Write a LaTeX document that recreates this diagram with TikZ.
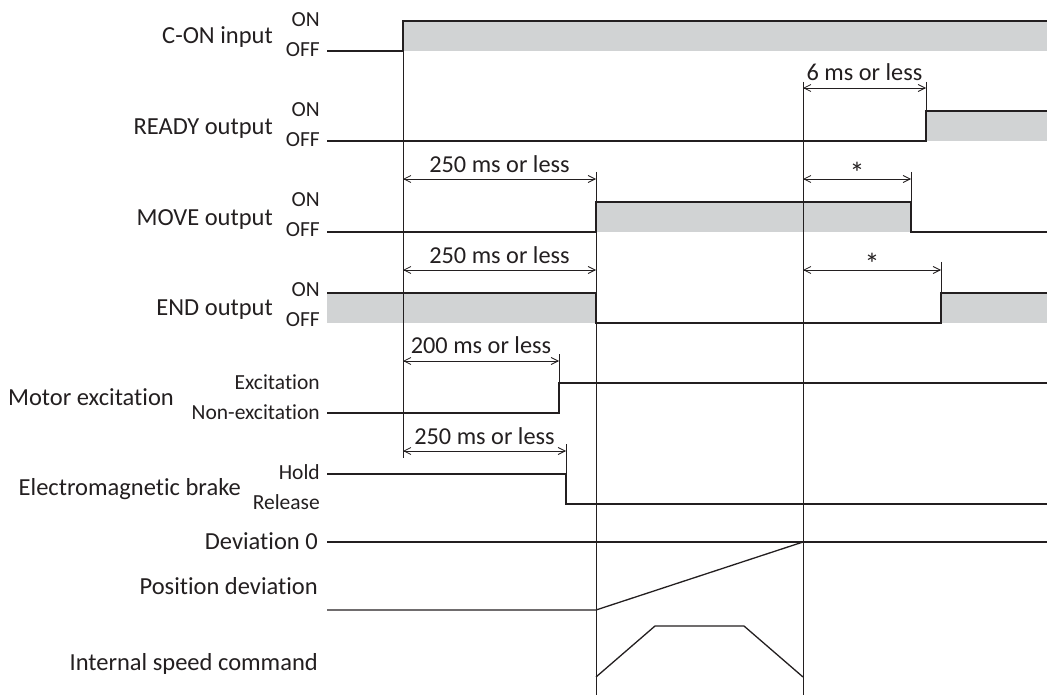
\documentclass[tikz,border=0pt]{standalone}
\usepackage{fontspec}
\setmainfont{Carlito}[Ligatures={NoCommon,NoRequired,NoContextual}]
\usetikzlibrary{arrows.meta}
\definecolor{ink}{HTML}{231F20}
\definecolor{shade}{HTML}{D1D3D4}
\tikzset{
  mainlbl/.style={anchor=base east, inner sep=0pt, text=ink, font=\fontsize{24.5}{24.5}\selectfont},
  sublbl/.style={anchor=base east, inner sep=0pt, text=ink, font=\fontsize{21.5}{21.5}\selectfont},
  annot/.style={anchor=base, inner sep=0pt, text=ink, font=\fontsize{24.3}{24.3}\selectfont},
  star/.style={anchor=base, inner sep=0pt, text=ink, font=\fontsize{30}{30}\selectfont},
  wave/.style={draw=ink, line width=1.3pt, line join=miter},
  guide/.style={draw=ink, line width=0.9pt},
  dim/.style={draw=ink, line width=0.8pt, {Straight Barb[length=7pt,width=7pt,line width=0.8pt]}-{Straight Barb[length=7pt,width=7pt,line width=0.8pt]}},
  fillon/.style={fill=shade, draw=none}
}
\begin{document}
\begin{tikzpicture}[x=1pt,y=-1pt]
\useasboundingbox (0,0) rectangle (1047,695);
% ---------- gray fills ----------
\fill[fillon] (403,21) rectangle (1047,51);
\fill[fillon] (926,111) rectangle (1047,141);
\fill[fillon] (596,202) rectangle (911,232);
\fill[fillon] (327,293) rectangle (596,323);
\fill[fillon] (941,293) rectangle (1047,323);
% ---------- guide lines ----------
\coordinate (g1t) at (403,21);  \coordinate (g1b) at (403,458);
\coordinate (g2t) at (596,172); \coordinate (g2b) at (596,695);
\coordinate (g3t) at (803,82);  \coordinate (g3b) at (803,695);
\draw[guide] (g1t) -- (g1b);
\draw[guide] (g2t) -- (g2b);
\draw[guide] (g3t) -- (g3b);
% ticks
\draw[guide] (926,82) -- (926,111);
\draw[guide] (911,172) -- (911,202);
\draw[guide] (941,262) -- (941,293);
\draw[guide] (559,354) -- (559,383);
\draw[guide] (566,444) -- (566,474);
% ---------- waveforms ----------
\draw[wave] (327,51) -- (403,51) -- (403,21) -- (1047,21);
\draw[wave] (327,141) -- (926,141) -- (926,111) -- (1047,111);
\draw[wave] (327,232) -- (596,232) -- (596,202) -- (911,202) -- (911,232) -- (1047,232);
\draw[wave] (327,293) -- (596,293) -- (596,323) -- (941,323) -- (941,293) -- (1047,293);
\draw[wave] (327,413) -- (559,413) -- (559,383) -- (1047,383);
\draw[wave] (327,474) -- (566,474) -- (566,504) -- (1047,504);
\draw[wave] (327,542) -- (1047,542);
\draw[wave] (327,610) -- (596,610) -- (803,542);
\draw[wave] (596,677) -- (655,626) -- (744,626) -- (803,677);
% ---------- dimension arrows ----------
\coordinate (a1l) at (803,88);  \coordinate (a1r) at (926,88);
\coordinate (a2l) at (403,179); \coordinate (a2r) at (596,179);
\coordinate (a3l) at (803,179); \coordinate (a3r) at (911,179);
\coordinate (a4l) at (403,270); \coordinate (a4r) at (596,270);
\coordinate (a5l) at (803,270); \coordinate (a5r) at (941,270);
\coordinate (a6l) at (403,361); \coordinate (a6r) at (559,361);
\coordinate (a7l) at (403,451); \coordinate (a7r) at (566,451);
\draw[dim] (a1l) -- (a1r);
\draw[dim] (a2l) -- (a2r);
\draw[dim] (a3l) -- (a3r);
\draw[dim] (a4l) -- (a4r);
\draw[dim] (a5l) -- (a5r);
\draw[dim] (a6l) -- (a6r);
\draw[dim] (a7l) -- (a7r);
\node[annot] (t1) at (864.5,81) {6 ms or less};
\node[annot] (t2) at (499.5,173) {250 ms or less};
\node[star]  (t3) at (857,184) {*};
\node[annot] (t4) at (499.5,263) {250 ms or less};
\node[star]  (t5) at (872,275) {*};
\node[annot] (t6) at (481,353) {200 ms or less};
\node[annot] (t7) at (484.5,444) {250 ms or less};
% ---------- labels ----------
\node[mainlbl] (l1) at (273,43.7) {C-ON input};
\node[mainlbl] (l2) at (273,134.7) {READY output};
\node[mainlbl] (l3) at (273,225.7) {MOVE output};
\node[mainlbl] (l4) at (273,315.7) {END output};
\node[mainlbl] (l5) at (174,405.7) {Motor excitation};
\node[mainlbl] (l6) at (241,495.7) {Electromagnetic brake};
\node[mainlbl] (l7) at (318,549.7) {Deviation 0};
\node[mainlbl] (l8) at (318,594.7) {Position deviation};
\node[mainlbl] (l9) at (318,670.7) {Internal speed command};
\node[sublbl] (s1) at (320,26.8) {ON};
\node[sublbl] (s2) at (320,56.8) {OFF};
\node[sublbl] (s3) at (320,116.8) {ON};
\node[sublbl] (s4) at (320,146.8) {OFF};
\node[sublbl] (s5) at (320,206.8) {ON};
\node[sublbl] (s6) at (320,236.8) {OFF};
\node[sublbl] (s7) at (320,296.8) {ON};
\node[sublbl] (s8) at (320,326.8) {OFF};
\node[sublbl] (s9) at (320,389.5) {Excitation};
\node[sublbl] (s10) at (320,419.5) {Non-excitation};
\node[sublbl] (s11) at (320,479.8) {Hold};
\node[sublbl] (s12) at (320,509.8) {Release};
\end{tikzpicture}
\end{document}
